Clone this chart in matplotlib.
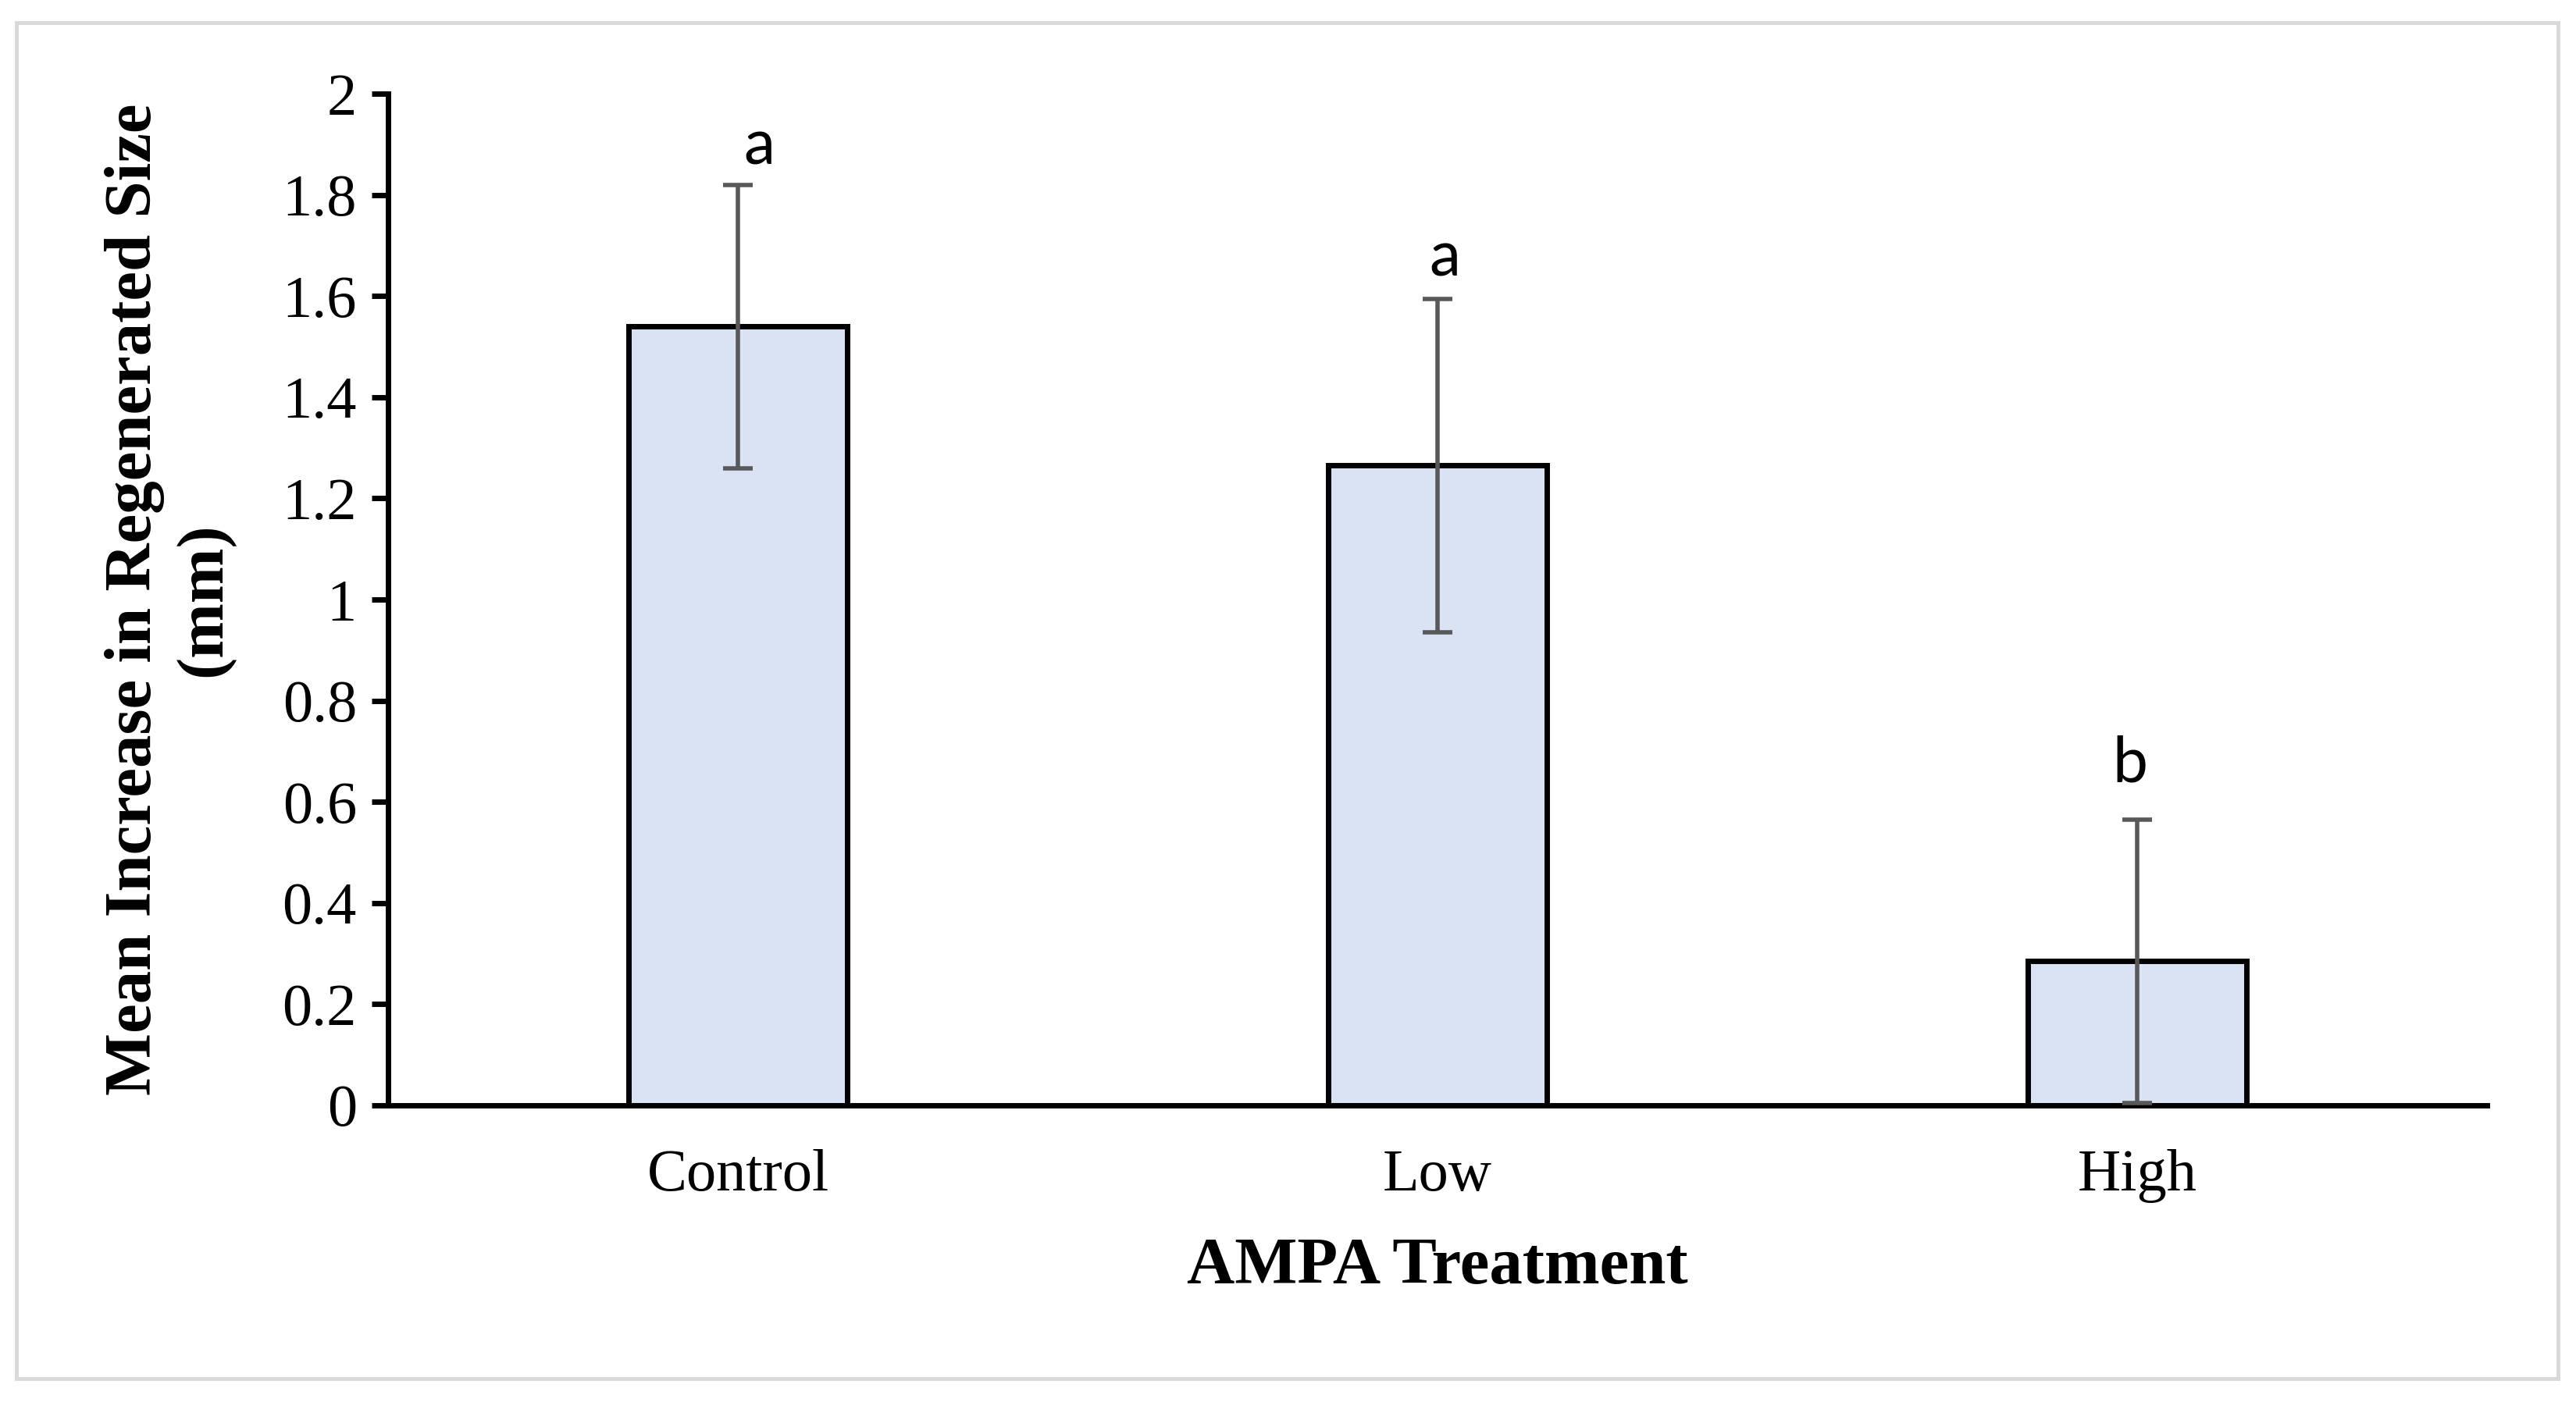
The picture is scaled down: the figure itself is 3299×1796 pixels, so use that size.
import matplotlib
matplotlib.use("Agg")
import matplotlib.pyplot as plt
from matplotlib.patches import Rectangle

categories = ["Control", "Low", "High"]
means = [1.54, 1.265, 0.285]
errors = [0.28, 0.33, 0.28]
letters = ["a", "a", "b"]
letter_y = [1.86, 1.64, 0.64]
letter_dx = [0.03, 0.01, -0.01]
yticks = [0, 0.2, 0.4, 0.6, 0.8, 1, 1.2, 1.4, 1.6, 1.8, 2]
ytick_labels = ["0", "0.2", "0.4", "0.6", "0.8", "1", "1.2", "1.4", "1.6", "1.8", "2"]

fig = plt.figure(figsize=(32.99, 17.96), dpi=100)
fig.patch.set_facecolor("white")

# outer light-gray frame
fig.add_artist(Rectangle((21/3299, 1 - 1766/1796), (3276-21)/3299, (1766-29)/1796,
                         transform=fig.transFigure, fill=False,
                         edgecolor="#d9d9d9", linewidth=3.5))

ax = fig.add_axes([0.1507, 0.2116, 0.9655 - 0.1507, 0.9331 - 0.2116])
x = list(range(len(categories)))
ax.bar(x, means, width=0.312, color="#dae3f3", edgecolor="black", linewidth=5, zorder=2)
ax.errorbar(x, means, yerr=errors, fmt="none", ecolor="#595959", elinewidth=4,
            capsize=14, capthick=4, zorder=3)

for xi, lab, ly, dx in zip(x, letters, letter_y, letter_dx):
    ax.text(xi + dx, ly, lab, ha="center", va="baseline", fontsize=58,
            family=["Lato", "DejaVu Sans"], color="black")

ax.set_xlim(-0.5, 2.5)
ax.set_ylim(0, 2)
ax.set_yticks(yticks)
ax.set_yticklabels(ytick_labels, family="Liberation Serif", fontsize=55)
ax.set_xticks(x)
ax.set_xticklabels(categories, family="Liberation Serif", fontsize=55)
ax.tick_params(axis="y", direction="out", length=15, width=5, pad=14)
ax.tick_params(axis="x", length=0, pad=40)
for s in ["top", "right"]:
    ax.spines[s].set_visible(False)
for s in ["left", "bottom"]:
    ax.spines[s].set_linewidth(5)

ax.set_xlabel("AMPA Treatment", family="Liberation Serif", fontweight="bold",
              fontsize=61, labelpad=32)
ax.set_ylabel("Mean Increase in Regenerated Size\n(mm)", family="Liberation Serif",
              fontweight="bold", fontsize=61, labelpad=44, linespacing=1.2)

fig.savefig("out.png", dpi=100)
